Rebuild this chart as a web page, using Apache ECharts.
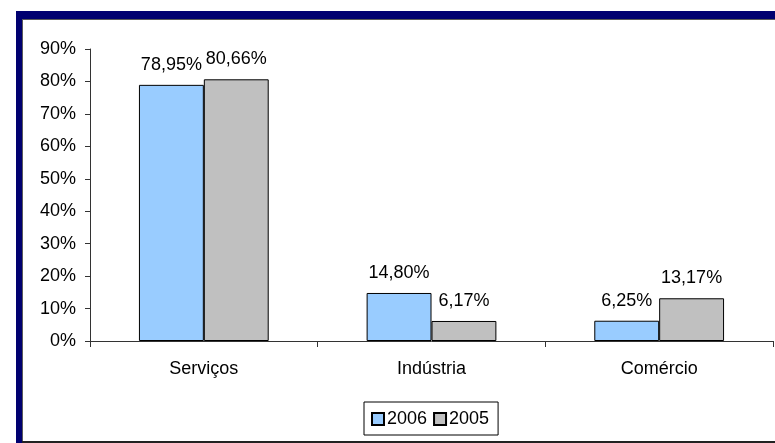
<!DOCTYPE html>
<html>
<head>
<meta charset="utf-8">
<script src="https://cdn.jsdelivr.net/npm/echarts@6/dist/echarts.min.js"></script>
<style>
  html, body { margin: 0; padding: 0; background: #fff; }
  #chart { width: 775px; height: 443px; }
</style>
</head>
<body>
<div id="chart"></div>
<script>
// Sector share of activity, 2006 vs 2005 (percent)
const categories = ['Serviços', 'Indústria', 'Comércio'];
const values2006 = [78.95, 14.80, 6.25];
const values2005 = [80.66, 6.17, 13.17];
const seriesNames = ['2006', '2005'];
const yTicks = { min: 0, max: 90, interval: 10 };

const FONT = 'Liberation Sans, Arial, sans-serif';
const FS = 18;
const fmtPct = v => v.toFixed(2).replace('.', ',') + '%';

const chart = echarts.init(document.getElementById('chart'), null, { renderer: 'canvas' });

function barSeries(name, data, color) {
  return {
    name: name,
    type: 'bar',
    data: data,
    barGap: '0%',
    barCategoryGap: '43%',
    itemStyle: { color: color, borderColor: '#000', borderWidth: 1 },
    label: {
      show: true,
      position: 'top',
      distance: 11,
      color: '#000',
      fontFamily: FONT,
      fontSize: FS,
      formatter: p => fmtPct(p.value)
    }
  };
}

chart.setOption({
  animation: false,
  backgroundColor: '#fff',
  textStyle: { fontFamily: FONT },
  graphic: [
    // navy frame with shadow edge
    { type: 'rect', z: -100, silent: true, shape: { x: 16, y: 11, width: 800, height: 440 }, style: { fill: '#000070' } },
    { type: 'rect', z: -99, silent: true, shape: { x: 22, y: 19, width: 800, height: 430 }, style: { fill: '#5a5a5a' } },
    { type: 'rect', z: -98, silent: true, shape: { x: 23, y: 20, width: 800, height: 421 }, style: { fill: '#fff' } },
    { type: 'rect', z: -97, silent: true, shape: { x: 22, y: 441, width: 800, height: 3 }, style: { fill: '#222' } }
  ],
  grid: { left: 90, right: 2, top: 49, bottom: 102, containLabel: false },
  legend: {
    data: seriesNames,
    left: 364,
    top: 402,
    orient: 'horizontal',
    icon: 'rect',
    itemWidth: 12,
    itemHeight: 12,
    itemGap: 6,
    padding: [8, 9, 7, 7],
    borderColor: '#000',
    borderWidth: 1,
    textStyle: { color: '#000', fontSize: FS, fontFamily: FONT, padding: [0, 0, 0, -2] }
  },
  xAxis: {
    type: 'category',
    data: categories,
    axisLine: { lineStyle: { color: '#333', width: 1 } },
    axisTick: { show: true, length: 6, lineStyle: { color: '#333' } },
    axisLabel: { color: '#000', fontSize: FS, fontFamily: FONT, margin: 19 }
  },
  yAxis: {
    type: 'value',
    min: yTicks.min,
    max: yTicks.max,
    interval: yTicks.interval,
    axisLine: { show: true, lineStyle: { color: '#333', width: 1 } },
    axisTick: { show: true, length: 5, lineStyle: { color: '#333' } },
    splitLine: { show: false },
    axisLabel: { color: '#000', fontSize: FS, fontFamily: FONT, margin: 14, formatter: v => v + '%' }
  },
  series: [
    barSeries(seriesNames[0], values2006, '#99ccff'),
    barSeries(seriesNames[1], values2005, '#c0c0c0')
  ]
});
</script>
</body>
</html>
